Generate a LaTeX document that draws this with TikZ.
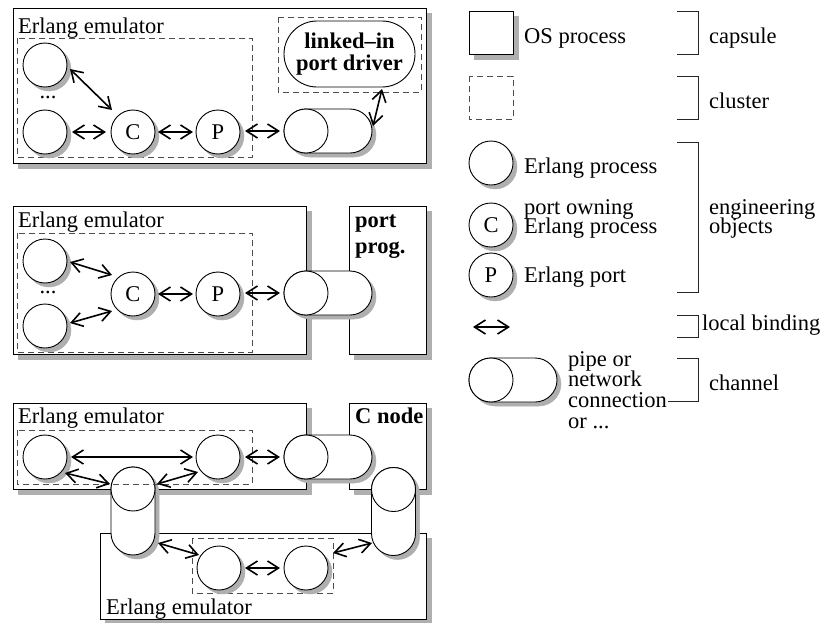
\documentclass[tikz,border=0pt]{standalone}
\usepackage{fontspec}
\setmainfont{Liberation Serif}
\usetikzlibrary{arrows.meta,shapes.misc}

\definecolor{shadowgray}{RGB}{175,175,175}
\definecolor{dashgray}{RGB}{77,77,77}

\newcommand{\txtsize}[1]{\fontsize{22.5}{#1}\selectfont\lineskiplimit=-50pt\relax}

\tikzset{
  osbox/.style={draw,line width=0.9pt,fill=white},
  cluster/.style={draw=dashgray,line width=0.8pt,dash pattern=on 6pt off 4pt},
  proc/.style={circle,draw,line width=0.9pt,fill=white,minimum size=44pt,inner sep=0pt,font=\txtsize{26}},
  procsh/.style={circle,draw=shadowgray,line width=0.5pt,fill=shadowgray,minimum size=44pt,inner sep=0pt},
  pipe/.style={rounded rectangle,draw,line width=0.9pt,fill=white,minimum width=88pt,minimum height=44pt,inner sep=0pt},
  pipesh/.style={rounded rectangle,draw=shadowgray,line width=0.5pt,fill=shadowgray,minimum width=88pt,minimum height=44pt,inner sep=0pt},
  pipeend/.style={circle,draw,line width=0.9pt,fill=white,minimum size=44pt,inner sep=0pt},
  driver/.style={rounded rectangle,draw,line width=0.9pt,fill=white,minimum width=131pt,minimum height=66pt,inner sep=0pt,align=center,font=\bfseries\txtsize{22}},
  bind/.style={{Straight Barb[length=11pt,width=14pt]}-{Straight Barb[length=11pt,width=14pt]},line width=1.6pt},
  txt/.style={anchor=base west,inner sep=0pt,align=left,font=\txtsize{#1}},
  txt/.default=26,
  boldtxt/.style={anchor=base west,inner sep=0pt,align=left,font=\bfseries\txtsize{26}},
  brk/.style={line width=0.9pt,draw=black!85},
}

% OS process box with its drop shadow: corners (x1,y1) and (x2,y2)
\newcommand{\osrect}[4]{%
  \filldraw[draw=shadowgray,fill=shadowgray,line width=0.5pt] (#1+5,#2+5) rectangle (#3+5,#4+5);
  \draw[osbox] (#1,#2) rectangle (#3,#4);}
% Erlang process circle with drop shadow: name, x, y, letter
\newcommand{\procat}[4]{%
  \node[procsh] (#1sh) at (#2+4,#3+4) {};
  \node[proc] (#1) at (#2,#3) {#4};}
% horizontal channel: name, x, y of its centre; end circle named <name>c
\newcommand{\hpipe}[3]{%
  \node[pipesh] (#1sh) at (#2+4,#3+4) {};
  \node[pipe] (#1) at (#2,#3) {};
  \node[pipeend] (#1c) at (#2-22,#3) {};}
% vertical channel: name, x, y of its centre; end circle on top
\newcommand{\vpipe}[3]{%
  \node[pipesh,rotate=90] (#1sh) at (#2+4,#3+4) {};
  \node[pipe,rotate=90] (#1) at (#2,#3) {};
  \node[pipeend] (#1c) at (#2,#3-22) {};}

\begin{document}
\begin{tikzpicture}[x=1pt,y=-1pt]
\useasboundingbox (0,0) rectangle (832,622);

% ---------- first configuration: linked-in port driver ----------
\osrect{13}{8}{426}{163}
\node[txt] (em1) at (18,33) {Erlang emulator};
\hpipe{pipe1}{328}{131}
\draw[cluster] (17,38) rectangle (252,157);
\draw[cluster] (278,17) rectangle (421,92);
\node[driver] (drv) at (349.5,54) {linked–in\\port driver};
\procat{tl1}{45}{65}{}
\procat{bl1}{45}{132}{}
\node[font=\txtsize{26}] (dots1) at (48,97) {...};
\procat{c1}{133}{132}{C}
\procat{p1}{218}{132}{P}
\draw[bind] ([shift={(25,4)}]tl1.center) -- ([shift={(-21,-22)}]c1.center);
\draw[bind] ([shift={(27,0)}]bl1.center) -- ([shift={(-27,0)}]c1.center);
\draw[bind] ([shift={(25,0)}]c1.center) -- ([shift={(-25,0)}]p1.center);
\draw[bind] ([shift={(27,-1)}]p1.center) -- ([shift={(-26,0)}]pipe1c.center);
\draw[bind] ([shift={(45,-5)}]pipe1.center) -- ([shift={(32.5,35)}]drv.center);

% ---------- second configuration: external port program ----------
\osrect{13}{206}{306}{354}
\osrect{349}{206}{426}{354}
\node[txt] (em2) at (18,227) {Erlang emulator};
\node[boldtxt] (pprog) at (355,253) {port\\prog.};
\hpipe{pipe2}{328}{293}
\draw[cluster] (17,233) rectangle (252,352);
\procat{tl2}{45}{261}{}
\procat{bl2}{45}{326}{}
\node[font=\txtsize{26}] (dots2) at (48,292) {...};
\procat{c2}{133}{294}{C}
\procat{p2}{218}{294}{P}
\draw[bind] ([shift={(25,1)}]tl2.center) -- ([shift={(-21,-19)}]c2.center);
\draw[bind] ([shift={(25,-3)}]bl2.center) -- ([shift={(-21,17)}]c2.center);
\draw[bind] ([shift={(25,0)}]c2.center) -- ([shift={(-25,0)}]p2.center);
\draw[bind] ([shift={(27,-1)}]p2.center) -- ([shift={(-26,0)}]pipe2c.center);

% ---------- third configuration: C node and two emulators ----------
\osrect{13}{403}{306}{489}
\osrect{349}{403}{426}{489}
\osrect{100}{533}{426}{619}
\node[txt] (em3) at (18,423) {Erlang emulator};
\node[boldtxt] (cnode) at (355,423) {C node};
\node[txt] (em4) at (106,614) {Erlang emulator};
\hpipe{pipe3}{328}{457}
\vpipe{vl}{133}{511}
\vpipe{vr}{393.5}{511.5}
\draw[cluster] (17,430) rectangle (252,484);
\draw[cluster] (192,538) rectangle (333,593);
\procat{l3}{45}{457}{}
\procat{r3}{218}{457}{}
\procat{ll}{219}{568}{}
\procat{lr}{306}{568}{}
\draw[bind] ([shift={(26,0)}]l3.center) -- ([shift={(-25,0)}]r3.center);
\draw[bind] ([shift={(27,0)}]r3.center) -- ([shift={(-26,0)}]pipe3c.center);
\draw[bind] ([shift={(20,16)}]l3.center) -- ([shift={(-23,-5)}]vlc.center);
\draw[bind] ([shift={(24,-5)}]vlc.center) -- ([shift={(-20,15)}]r3.center);
\draw[bind] ([shift={(25,32)}]vl.center) -- ([shift={(-20,-13)}]ll.center);
\draw[bind] ([shift={(26,0)}]ll.center) -- ([shift={(-26,0)}]lr.center);
\draw[bind] ([shift={(27,-15)}]lr.center) -- ([shift={(-21.5,31.5)}]vr.center);

% ---------- legend ----------
\osrect{469}{11}{513}{54}
\node[txt] (kos) at (524,43) {OS process};
\draw[cluster] (469,76) rectangle (513,119);
\procat{kep}{491}{163}{}
\node[txt] (kept) at (524,173) {Erlang process};
\procat{kc}{491}{225}{C}
\node[txt=18.3] (kct) at (524,233) {port owning\\Erlang process};
\procat{kp}{491}{275}{P}
\node[txt] (kpt) at (524,282) {Erlang port};
\coordinate (ka) at (473,327);
\coordinate (kb) at (510,327);
\draw[bind] (ka) -- (kb);
\hpipe{kpipe}{513}{380}
\node[txt=20.6] (kpipet) at (568,428) {pipe or\\network\\connection\\or ...};

% brackets naming the categories
\draw[brk] (677,11) -- (698,11) -- (698,54) -- (677,54);
\draw[brk] (677,76) -- (698,76) -- (698,119) -- (677,119);
\draw[brk] (677,142) -- (698,142) -- (698,292) -- (677,292);
\draw[brk] (677,315) -- (698,315) -- (698,337) -- (677,337);
\draw[brk] (677,358) -- (698,358) -- (698,401) -- (668,401);
\node[txt] (kcap) at (709,43) {capsule};
\node[txt] (kclu) at (709,108) {cluster};
\node[txt=18.3] (keng) at (709,233) {engineering\\objects};
\node[txt] (kloc) at (702,330) {local binding};
\node[txt] (kchan) at (709,390) {channel};
\end{tikzpicture}
\end{document}
